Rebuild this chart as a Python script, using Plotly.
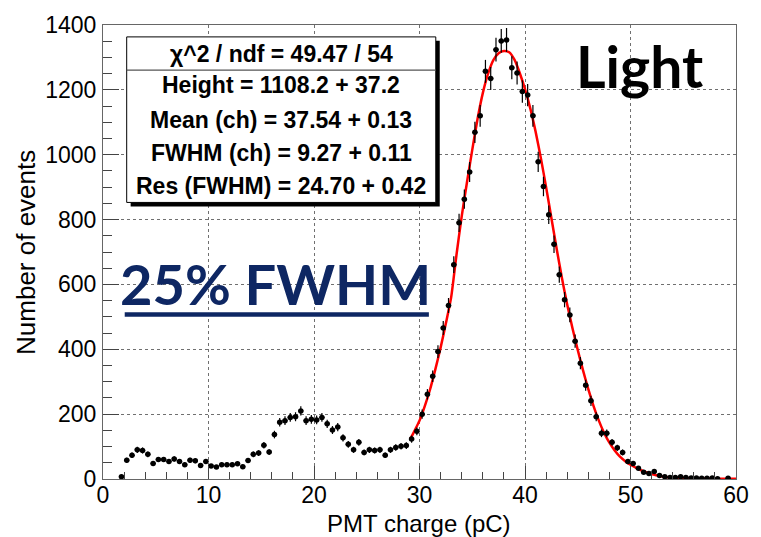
import numpy as np
import plotly.graph_objects as go

# ---- data ----
bin_centers = [1.75 + 0.5 * k for k in range(116)]
counts = [
    7, 58, 73, 90, 88, 76, 48, 60, 60, 54,
    62, 54, 44, 58, 56, 42, 54, 40, 37, 44,
    44, 44, 47, 38, 57, 76, 80, 104, 83, 137,
    175, 180, 190, 192, 210, 180, 184, 182, 190, 170,
    151, 160, 127, 107, 90, 113, 82, 90, 88, 90,
    73, 90, 97, 101, 103, 123, 147, 200, 261, 317,
    393, 466, 535, 661, 790, 863, 947, 1069, 1120, 1257,
    1235, 1324, 1351, 1354, 1268, 1252, 1195, 1184, 1120, 978,
    902, 815, 724, 630, 553, 506, 425, 357, 289, 241,
    192, 141, 141, 113, 96, 82, 54, 48, 33, 21,
    17, 23, 11, 7, 5, 5, 7, 5, 3, 3,
    2, 2, 3, 1, None, 2,
]

fit_x = [29.1, 29.5, 30, 30.5, 31, 31.5, 32, 32.5, 33, 33.5, 34, 34.5, 35, 35.5,
         36, 36.5, 37, 37.5, 38, 38.5, 39, 39.5, 40, 40.5, 41, 41.5, 42, 42.5,
         43, 43.5, 44, 44.5, 45, 45.5, 46, 46.5, 47, 47.5, 48, 48.5, 49, 49.5,
         50, 51, 52, 53, 54, 55, 56, 58, 60]
fit_y = [122, 147, 180, 225, 276, 338, 405, 480, 560, 690, 810, 915, 1015, 1110,
         1190, 1250, 1292, 1313, 1320, 1316, 1293, 1252, 1202, 1143, 1072, 990, 900, 805,
         710, 620, 538, 465, 398, 335, 277, 225, 180, 142, 112, 88, 69, 55,
         44, 27, 15, 8, 4, 3, 2, 1, 1]

x_ticks = [0, 10, 20, 30, 40, 50, 60]
y_ticks = [0, 200, 400, 600, 800, 1000, 1200, 1400]

stats_lines = [
    "χ^2 / ndf = 49.47 / 54",
    "Height = 1108.2 + 37.2",
    "Mean (ch) = 37.54 + 0.13",
    "FWHM (ch) = 9.27 + 0.11",
    "Res (FWHM) = 24.70 + 0.42",
]

errs = [None if c is None else float(np.sqrt(c)) for c in counts]

# ---- geometry helpers (pixel -> paper) ----
PL, PR, PT, PB = 103, 744, 21, 479
W, H = 761, 537
def px(x):
    return (x - PL) / (PR - PL)
def py(y):
    return (PB - y) / (PB - PT)

FONT = "Liberation Sans, Arial, Helvetica, sans-serif"

fig = go.Figure()
fig.add_trace(go.Scatter(
    x=fit_x, y=fit_y, mode="lines",
    line=dict(color="#ff0000", width=2.5, shape="spline", smoothing=0.6),
    hoverinfo="skip", showlegend=False,
))
fig.add_trace(go.Scatter(
    x=bin_centers, y=counts, mode="markers",
    marker=dict(color="black", size=5.5, symbol="circle"),
    error_y=dict(type="data", array=errs, visible=True, color="black", thickness=1.2, width=0),
    error_x=dict(type="constant", value=0.25, visible=True, color="black", thickness=1.2, width=0),
    showlegend=False,
))

axis_common = dict(
    showline=True, linecolor="#666666", linewidth=1, mirror=True,
    ticks="inside", tickcolor="#444444", tickwidth=1,
    showgrid=True, gridcolor="#707070", griddash="dot", gridwidth=1,
    zeroline=False,
    tickfont=dict(family=FONT, size=23, color="black"),
)

fig.update_xaxes(
    range=[0, 60], tickvals=x_ticks, ticklen=13,
    minor=dict(ticks="inside", ticklen=7, dtick=2, tickcolor="#444444", showgrid=False),
    ticklabelstandoff=-5,
    **axis_common,
)
fig.update_yaxes(
    range=[0, 1400], tickvals=y_ticks, ticklen=16,
    minor=dict(ticks="inside", ticklen=9, dtick=50, tickcolor="#444444", showgrid=False),
    ticklabelstandoff=1,
    **axis_common,
)

shapes = []
# stats box shadow + box
shapes.append(dict(type="rect", xref="paper", yref="paper",
                   x0=px(131), x1=px(444), y0=py(204), y1=py(37),
                   fillcolor="black", line=dict(width=0), layer="above"))
shapes.append(dict(type="rect", xref="paper", yref="paper",
                   x0=px(127), x1=px(440), y0=py(200), y1=py(33),
                   fillcolor="white", line=dict(color="black", width=1), layer="above"))
shapes.append(dict(type="line", xref="paper", yref="paper",
                   x0=px(127), x1=px(440), y0=py(66.5), y1=py(66.5),
                   line=dict(color="#555555", width=1.2), layer="above"))
# underline for the 25% FWHM label
shapes.append(dict(type="line", xref="paper", yref="paper",
                   x0=px(125), x1=px(433), y0=py(313), y1=py(313),
                   line=dict(color="#0e2763", width=4.5), layer="above"))

annotations = []
row_y = [50, 82, 116.5, 150.5, 183]
for txt, yy in zip(stats_lines, row_y):
    annotations.append(dict(
        text="<b>%s</b>" % txt, xref="paper", yref="paper", x=px(283.5), y=py(yy),
        xanchor="center", yanchor="middle", showarrow=False,
        font=dict(family=FONT, size=23, color="black")))

annotations.append(dict(
    text="<b>Light</b>", xref="paper", yref="paper", x=px(646), y=py(62),
    xanchor="center", yanchor="middle", showarrow=False,
    font=dict(family="Lato, Open Sans, sans-serif", size=57, color="black")))
annotations.append(dict(
    text="<b>25% FWHM</b>", xref="paper", yref="paper", x=px(278), y=py(282),
    xanchor="center", yanchor="middle", showarrow=False,
    font=dict(family="Lato, Open Sans, sans-serif", size=56, color="#0e2763")))

annotations.append(dict(
    text="PMT charge (pC)", xref="paper", yref="paper", x=px(423), y=py(524),
    xanchor="center", yanchor="middle", showarrow=False,
    font=dict(family=FONT, size=24, color="black")))
annotations.append(dict(
    text="Number of events", xref="paper", yref="paper", x=px(25), y=py(250),
    xanchor="center", yanchor="middle", showarrow=False, textangle=-90,
    font=dict(family=FONT, size=26, color="black")))

fig.update_layout(
    width=W, height=H,
    margin=dict(l=PL, r=W - PR, t=PT, b=H - PB),
    paper_bgcolor="white", plot_bgcolor="white",
    shapes=shapes, annotations=annotations,
    showlegend=False,
)

fig.write_html("out.html")
